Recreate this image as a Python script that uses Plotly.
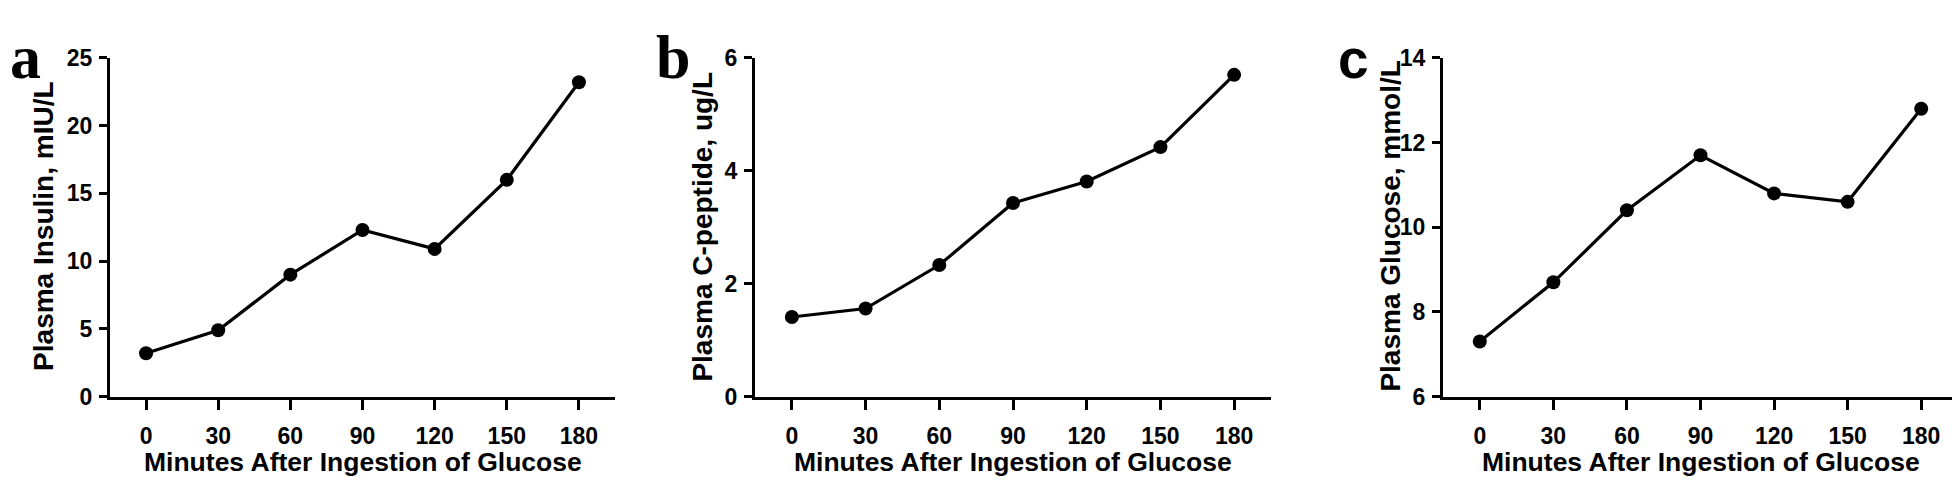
import plotly.graph_objects as go

minutes = [0, 30, 60, 90, 120, 150, 180]
insulin = [3.2, 4.9, 9.0, 12.3, 10.9, 16.0, 23.2]
cpeptide = [1.41, 1.56, 2.33, 3.43, 3.81, 4.42, 5.70]
glucose = [7.3, 8.7, 10.4, 11.7, 10.8, 10.6, 12.8]

x_title = "Minutes After Ingestion of Glucose"
y_titles = ["Plasma Insulin, mIU/L", "Plasma C-peptide, ug/L", "Plasma Glucose, mmol/L"]
panel_letters = ["a", "b", "c"]
y_ranges = [[0, 25], [0, 6], [6, 14]]
y_dticks = [5, 2, 2]
x_range = [-15, 195]

# The page body has an 8px default margin, so the figure is shifted by 8px;
# it is sized so that it ends exactly at the window's right and bottom edges.
OFF = 8
W, H = 1960 - OFF, 490 - OFF

xdoms_px = [(110, 615), (755, 1271), (1443, 1958)]
ytop_px, ybot_px = 47, 405

def px_x(p):
    return (p - OFF) / W

def px_y(p):
    return 1 - (p - OFF) / H

fig = go.Figure()
series = [insulin, cpeptide, glucose]
sans = "Liberation Sans, Arial, sans-serif"
serif = "Liberation Serif, Times New Roman, serif"

for i, vals in enumerate(series):
    n = "" if i == 0 else str(i + 1)
    fig.add_trace(go.Scatter(
        x=minutes, y=vals, mode="lines+markers",
        line=dict(color="black", width=3.2),
        marker=dict(color="black", size=14),
        xaxis="x" + n, yaxis="y" + n, showlegend=False,
        cliponaxis=False,
    ))
    xd = [px_x(xdoms_px[i][0]), px_x(xdoms_px[i][1])]
    yd = [px_y(ybot_px), px_y(ytop_px)]
    common = dict(showline=True, linecolor="black", linewidth=3.2,
                  ticks="outside", tickcolor="black", tickwidth=3,
                  showgrid=False, zeroline=False,
                  tickfont=dict(family=sans, size=23, color="black", weight="bold"))
    fig.update_layout(**{
        "xaxis" + n: dict(domain=xd, range=x_range, tickmode="array", tickvals=minutes,
                          ticklen=10, anchor="y" + n, ticklabelstandoff=7, **common),
        "yaxis" + n: dict(domain=yd, range=y_ranges[i], dtick=y_dticks[i], tick0=0,
                          ticklen=8, anchor="x" + n, ticklabelstandoff=2, **common),
    })
    # x-axis title
    fig.add_annotation(text=x_title, xref="paper", yref="paper",
                       x=(xd[0] + xd[1]) / 2, y=px_y(474), xanchor="center", yanchor="middle",
                       showarrow=False,
                       font=dict(family=sans, size=26.5, color="black", weight="bold"))
    # y-axis title
    ytx = [43.6, 702.3, 1390.3][i]
    fig.add_annotation(text=y_titles[i], xref="paper", yref="paper",
                       x=px_x(ytx), y=px_y(225), xanchor="center", yanchor="middle",
                       textangle=-90, showarrow=False,
                       font=dict(family=sans, size=28, color="black", weight="bold"))

# panel letters (kept fully inside the figure so they are not clipped)
letter_x = [8, 654, 1336]
letter_shift = [0, 0, -5]
for i, L in enumerate(panel_letters):
    if L == "c":
        f = dict(family=sans, size=55, color="black", weight="bold")
    else:
        f = dict(family=serif, size=62, color="black", weight="bold")
    fig.add_annotation(text=L, xref="paper", yref="paper", x=px_x(letter_x[i]),
                       y=1, xanchor="left", yanchor="top", yshift=letter_shift[i],
                       showarrow=False, font=f)

fig.update_layout(width=W, height=H, margin=dict(l=0, r=0, t=0, b=0),
                  paper_bgcolor="white", plot_bgcolor="white")

fig.write_html("out.html")
